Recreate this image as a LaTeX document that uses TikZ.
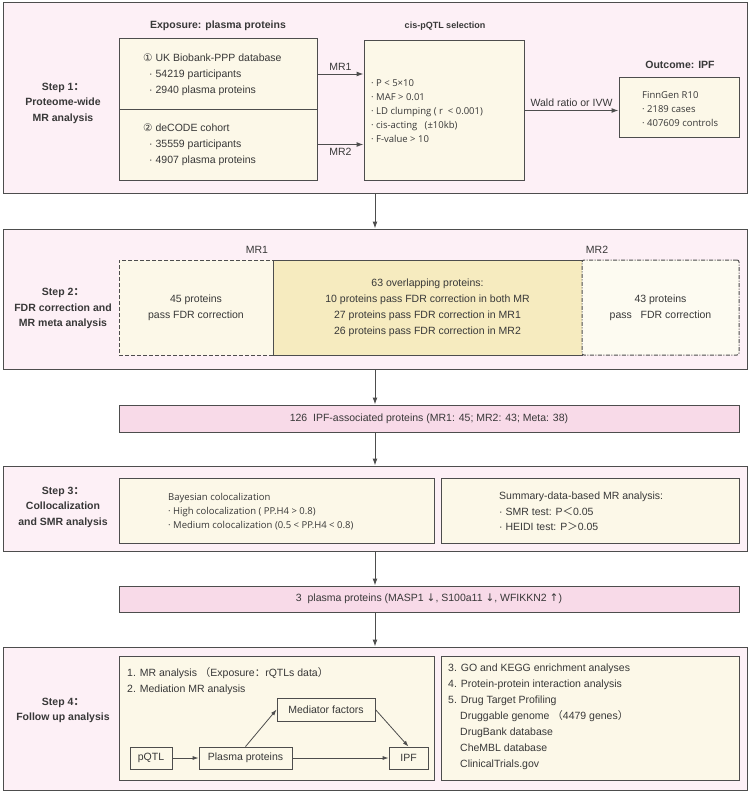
\documentclass[tikz,border=0pt]{standalone}
\usepackage{fontspec}
\setmainfont{Liberation Sans}
\newfontfamily\cjkfont{Noto Sans CJK SC}
\newfontfamily\symfont{DejaVu Sans}
\newfontfamily\altfont{Open Sans}
\usetikzlibrary{arrows.meta}
\definecolor{steppink}{HTML}{FDF0F6}
\definecolor{barpink}{HTML}{F8DAE8}
\definecolor{cream}{HTML}{FCF8E8}
\definecolor{darkcream}{HTML}{F6EBBF}
\definecolor{linegray}{HTML}{4D4D4D}
\definecolor{textgray}{HTML}{383838}
\begin{document}
\begin{tikzpicture}[x=1pt,y=-1pt,text=textgray,
  stepbox/.style={draw=linegray, line width=1pt, fill=steppink, minimum width=744pt},
  inbox/.style={draw=linegray, line width=1pt, fill=cream},
  barbox/.style={draw=linegray, line width=1pt, fill=barpink, minimum width=620pt, font=\fontsize{10.5}{13}\selectfont},
  smallbox/.style={draw=linegray, line width=0.8pt, fill=cream, minimum height=22pt, font=\fontsize{10.5}{13}\selectfont},
  steplabel/.style={font=\bfseries\fontsize{10.5}{15.5}\selectfont, align=center},
  titletext/.style={font=\bfseries\fontsize{10.5}{13}\selectfont},
  bodytext/.style={font=\fontsize{10.5}{16}\selectfont, align=left, inner sep=0pt},
  midtext/.style={font=\fontsize{10.5}{16}\selectfont, align=center},
  alttext/.style={font=\altfont\fontsize{9.5}{14}\selectfont, align=left, inner sep=0pt},
  arr/.style={-{Latex[length=7pt,width=5pt]}, line width=1pt, draw=linegray},
  smallarr/.style={-{Latex[length=6pt,width=4pt]}, line width=0.8pt, draw=linegray}]
\useasboundingbox (0,0) rectangle (750,792);

\node[stepbox, minimum height=190pt] (step1) at (375,98) {};
\node[steplabel] (s1label) at (63,103) {Step 1{\cjkfont ：}\\Proteome-wide\\MR analysis};
\node[titletext] (expotitle) at (218,26) {Exposure: plasma proteins};
\node[inbox, minimum width=198pt, minimum height=70pt] (ukb) at (218,74) {};
\node[inbox, minimum width=198pt, minimum height=71pt] (decode) at (218,144.5) {};
\node[bodytext, anchor=west] (ukbtext) at (143,75) {{\symfont ①} UK Biobank-PPP database\\\hspace*{6pt}· 54219 participants\\\hspace*{6pt}· 2940 plasma proteins};
\node[bodytext, anchor=west] (decodetext) at (143,145) {{\symfont ②} deCODE cohort\\\hspace*{6pt}· 35559 participants\\\hspace*{6pt}· 4907 plasma proteins};
\node[titletext, font=\bfseries\fontsize{9}{11}\selectfont] (cistitle) at (445,26) {cis-pQTL selection};
\node[inbox, minimum width=160pt, minimum height=139pt] (cis) at (444,110.5) {};
\node[alttext, anchor=west] (cistext) at (371,111) {· P < 5×10\\· MAF > 0.01\\· LD clumping ( r\ \ < 0.001)\\· cis-acting\ \ \ (±10kb)\\· F-value > 10};
\node[titletext] (outtitle) at (680,65) {Outcome: IPF};
\node[inbox, minimum width=120pt, minimum height=60pt] (outcome) at (679,107) {};
\node[alttext, anchor=west] (outtext) at (642,109) {FinnGen R10\\· 2189 cases\\· 407609 controls};
\draw[arr] (ukb.east) -- (ukb.east -| cis.west) node[midway, above, font=\fontsize{10.5}{13}\selectfont] {MR1};
\draw[arr] (decode.east) -- (decode.east -| cis.west) node[midway, below, font=\fontsize{10.5}{13}\selectfont] {MR2};
\draw[arr] (cis.east) -- (cis.east -| outcome.west) node[midway, above, font=\fontsize{10.5}{13}\selectfont] {Wald ratio or IVW};

\node[stepbox, minimum height=140pt] (step2) at (375,299) {};
\node[steplabel] (s2label) at (63,308.5) {Step 2{\cjkfont ：}\\FDR correction and\\MR meta analysis};
\node[inbox, dashed, dash pattern=on 4pt off 2pt, minimum width=154pt, minimum height=95pt, midtext] (mrone) at (196,307.5) {45 proteins\\pass FDR correction};
\node[inbox, fill=darkcream, minimum width=309pt, minimum height=95pt, midtext] (overlap) at (427.5,307.5) {63 overlapping proteins:\\10 proteins pass FDR correction in both MR\\27 proteins pass FDR correction in MR1\\26 proteins pass FDR correction in MR2};
\node[inbox, fill=cream!60!white, dash pattern=on 4pt off 1.5pt on 1pt off 1.5pt, rounded corners=2pt, minimum width=157pt, minimum height=95pt, midtext] (mrtwo) at (660.5,307.5) {43 proteins\\pass\ \ \ FDR correction};
\node[font=\fontsize{10.5}{13}\selectfont] (mronelabel) at (257,250) {MR1};
\node[font=\fontsize{10.5}{13}\selectfont] (mrtwolabel) at (597,250) {MR2};
\draw[arr] (step1.south) -- (step2.north);

\node[barbox, minimum height=27pt] (assoc) at (429,418.5) {126\ \ IPF-associated proteins (MR1: 45; MR2: 43; Meta: 38)};
\draw[arr] (step2.south) -- (step2.south |- assoc.north);

\node[stepbox, minimum height=85pt] (step3) at (375,508.5) {};
\node[steplabel] (s3label) at (63,507) {Step 3{\cjkfont ：}\\Collocalization\\and SMR analysis};
\node[inbox, minimum width=315pt, minimum height=65pt] (coloc) at (276.5,510.5) {};
\node[alttext, anchor=west] (coloctext) at (168,511.5) {Bayesian colocalization\\· High colocalization ( PP.H4 > 0.8)\\· Medium colocalization (0.5 < PP.H4 < 0.8)};
\node[inbox, minimum width=298pt, minimum height=65pt] (smr) at (590,510.5) {};
\node[bodytext, anchor=west, font=\fontsize{10.5}{15.5}\selectfont] (smrtext) at (499,511.5) {Summary-data-based MR analysis:\\· SMR test: P{\cjkfont ＜}0.05\\· HEIDI test: P{\cjkfont ＞}0.05};
\draw[arr] (assoc.south -| step3.north) -- (step3.north);

\node[barbox, minimum height=26pt] (three) at (429,599) {3\ \ plasma proteins (MASP1 {\symfont ↓}, S100a11 {\symfont ↓}, WFIKKN2 {\symfont ↑})};
\draw[arr] (step3.south) -- (step3.south |- three.north);

\node[stepbox, minimum height=143pt] (step4) at (375,718.5) {};
\node[steplabel] (s4label) at (63,710.5) {Step 4{\cjkfont ：}\\Follow up analysis};
\node[inbox, minimum width=315pt, minimum height=124pt] (follow) at (276.5,718) {};
\node[bodytext, anchor=north west] (followtext) at (127,667) {1. MR analysis\ {\cjkfont （}Exposure{\cjkfont ：}rQTLs data{\cjkfont ）}\\2. Mediation MR analysis};
\node[inbox, minimum width=298pt, minimum height=124pt] (drug) at (590,718) {};
\node[bodytext, anchor=north west] (drugtext) at (448,664) {3. GO and KEGG enrichment analyses\\4. Protein-protein interaction analysis\\5. Drug Target Profiling\\\hspace*{12pt}Druggable genome\ {\cjkfont （}4479 genes{\cjkfont ）}\\\hspace*{12pt}DrugBank database\\\hspace*{12pt}CheMBL database\\\hspace*{12pt}ClinicalTrials.gov};
\node[smallbox, minimum width=42pt] (pqtl) at (151,758) {pQTL};
\node[smallbox, minimum width=93pt] (plasma) at (245.5,758) {Plasma proteins};
\node[smallbox, minimum width=39pt] (ipf) at (408.5,758) {IPF};
\node[smallbox, minimum width=98pt, minimum height=23pt] (mediator) at (326,709.5) {Mediator factors};
\draw[smallarr] (pqtl) -- (plasma);
\draw[smallarr] (plasma) -- (ipf);
\draw[smallarr] (plasma.north) -- (mediator.west);
\draw[smallarr] (mediator.east) -- (ipf.north);
\draw[arr] (three.south -| step4.north) -- (step4.north);
\end{tikzpicture}
\end{document}
